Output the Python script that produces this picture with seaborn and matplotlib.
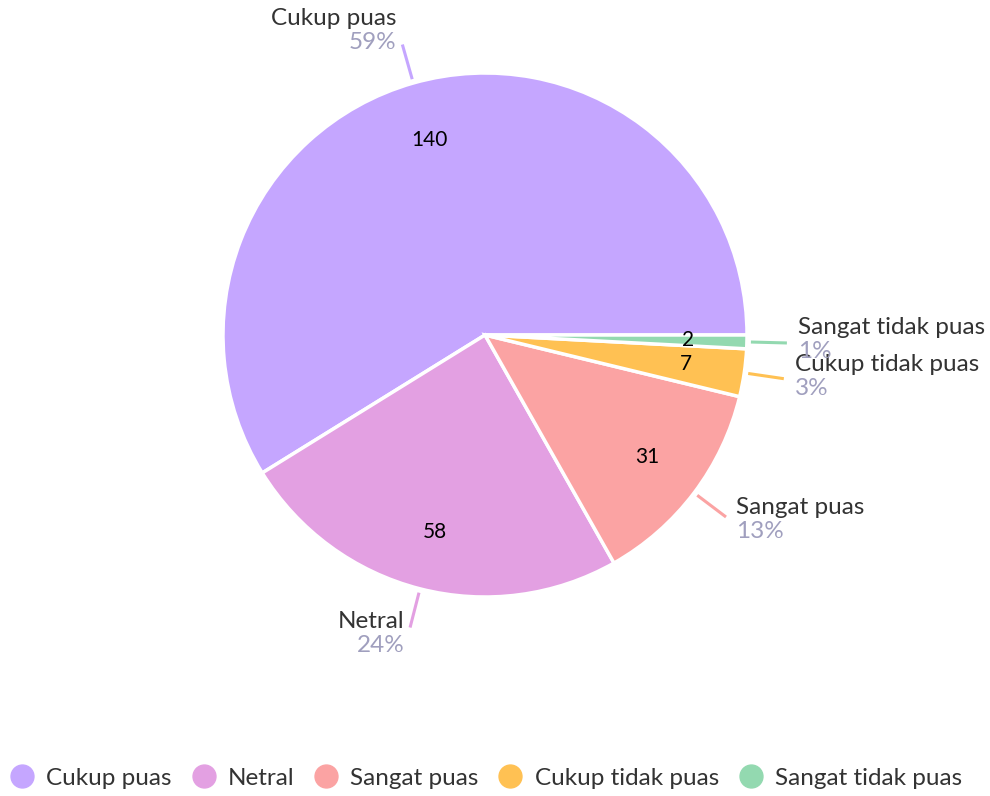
import numpy as np
import matplotlib.pyplot as plt
import seaborn as sns
from matplotlib.lines import Line2D

sns.set_theme(style='white')
plt.rcParams['font.family'] = ['Lato', 'DejaVu Sans']

# data
categories = ['Cukup puas', 'Netral', 'Sangat puas', 'Cukup tidak puas', 'Sangat tidak puas']
counts = [140, 58, 31, 7, 2]
colors = ['#C5A6FF', '#E3A0E2', '#FBA3A3', '#FFC153', '#93D9B0']

W, H = 990, 796
fig = plt.figure(figsize=(W / 100, H / 100), dpi=100)
ax = fig.add_axes([0, 0, 1, 1])

cx, cy, R = 485, H - 335, 262
wedges, _ = ax.pie(counts, colors=colors, startangle=0, counterclock=True,
                   center=(cx, cy), radius=R,
                   wedgeprops=dict(edgecolor='white', linewidth=2.5))
ax.set_xlim(0, W)
ax.set_ylim(0, H)
ax.set_aspect('equal')
ax.axis('off')

fs = 17.5
total = sum(counts)
for w, n, name, col in zip(wedges, counts, categories, colors):
    th = np.deg2rad((w.theta1 + w.theta2) / 2)
    c, s = np.cos(th), np.sin(th)
    # value inside the slice
    ax.text(cx + 0.775 * R * c, cy + 0.775 * R * s, str(n), ha='center', va='center',
            fontsize=15, color='black')
    # leader line
    x0, y0 = cx + (R + 4) * c, cy + (R + 4) * s
    x1, y1 = cx + (R + 40) * c, cy + (R + 40) * s
    ax.plot([x0, x1], [y0, y1], color=col, lw=2.2, solid_capstyle='butt')
    gap = 4 + 7 * abs(c)
    tx = x1 + gap if c > 0 else x1 - gap
    ha = 'left' if c > 0 else 'right'
    ty = y1 + 4 + 10 * s
    ax.text(tx, ty + 12, name, ha=ha, va='center', fontsize=fs, color='#333333')
    ax.text(tx, ty - 12, f'{round(100 * n / total)}%', ha=ha, va='center',
            fontsize=fs, color='#A09FBE')

handles = [Line2D([], [], marker='o', linestyle='', markersize=16.5,
                  markerfacecolor=col, markeredgecolor=col) for col in colors]
fig.legend(handles, categories, loc='center', bbox_to_anchor=(486 / W, 1 - 778 / H),
           ncol=5, frameon=False, fontsize=fs, handletextpad=0.5,
           columnspacing=0.8, labelcolor='#333333', handlelength=1.0)

fig.savefig('out.png', dpi=100)
